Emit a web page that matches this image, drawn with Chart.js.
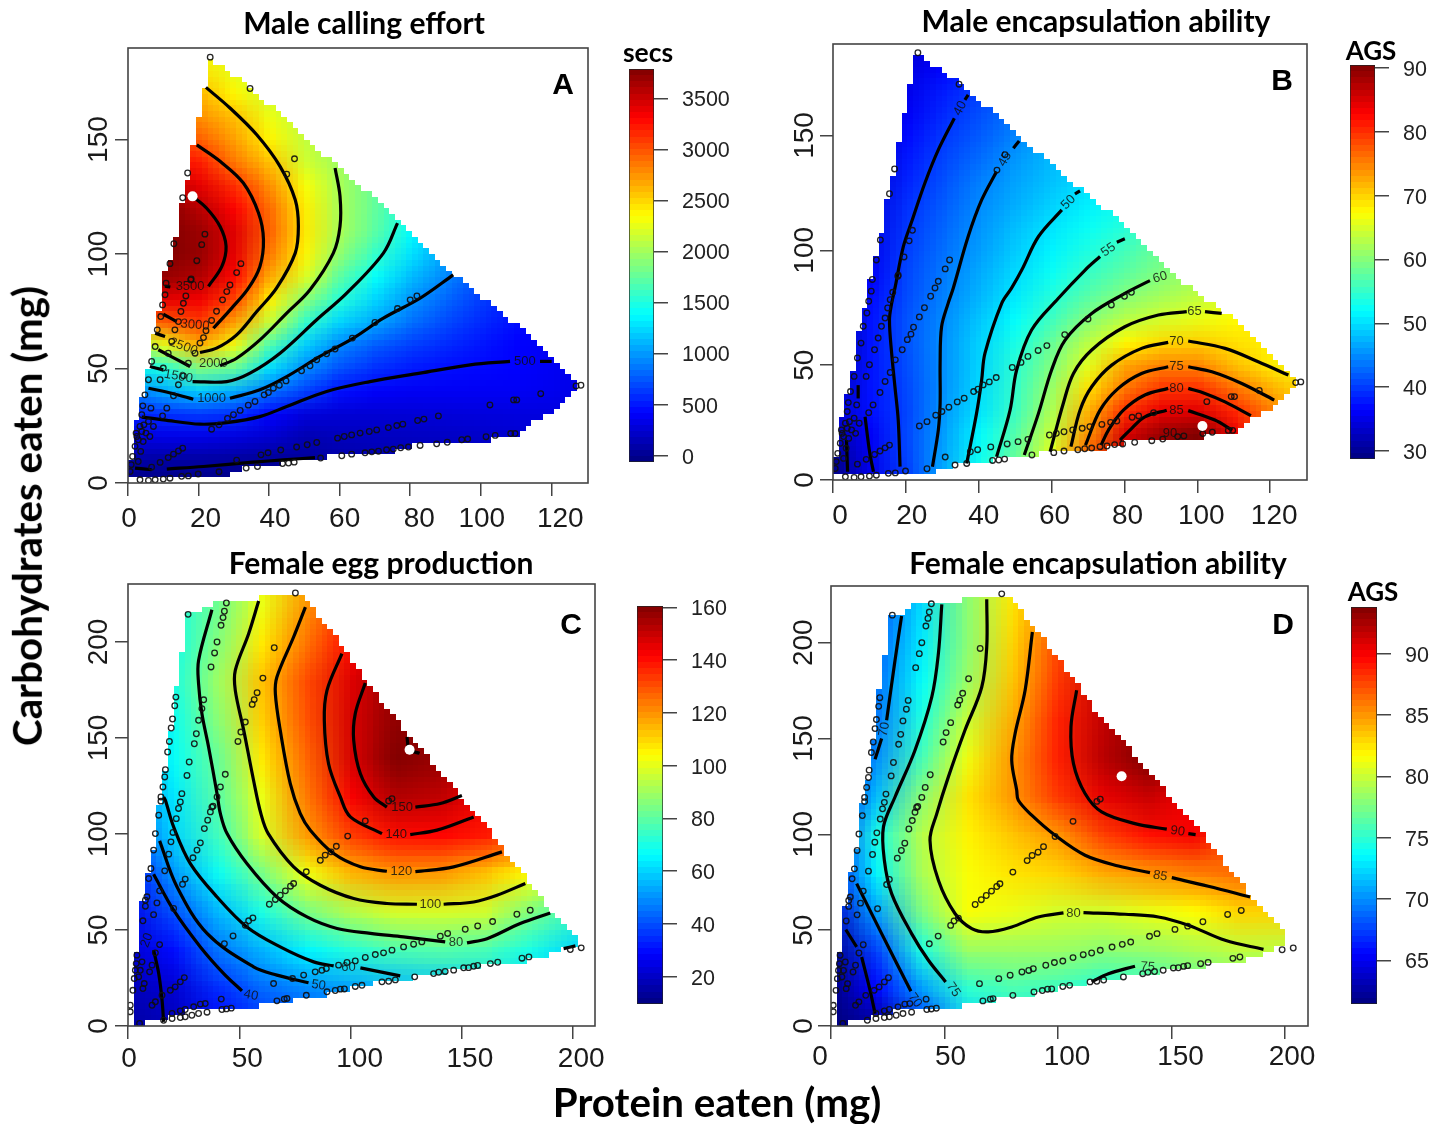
<!DOCTYPE html>
<html>
<head>
<meta charset="utf-8">
<title>Nutrient landscapes</title>
<script src="https://cdn.jsdelivr.net/npm/chart.js@4"></script>
<style>
html, body { margin: 0; padding: 0; background: #fff; width: 1448px; height: 1124px; overflow: hidden; }
canvas { position: absolute; }
.txt { position: absolute; white-space: nowrap; color: #000; font-family: Lato, "Open Sans", sans-serif; font-weight: 700; transform: translate(-50%, -50%); line-height: 1; }
.letter { font-family: "Liberation Sans", Arial, sans-serif; font-size: 30px; }
</style>
</head>
<body>
<script>
// tick labels
const xTicksMale = [0, 20, 40, 60, 80, 100, 120];
const yTicksMale = [0, 50, 100, 150];
const xTicksFemale = [0, 50, 100, 150, 200];
const yTicksFemale = [0, 50, 100, 150, 200];
const barTicksA = [0, 500, 1000, 1500, 2000, 2500, 3000, 3500];
const barTicksB = [30, 40, 50, 60, 70, 80, 90];
const barTicksC = [20, 40, 60, 80, 100, 120, 140, 160];
const barTicksD = [65, 70, 75, 80, 85, 90];

// colour bar limits
const barRangeA = [-62, 3787];
const barRangeB = [28.75, 90.47];
const barRangeC = [9.66, 160.5];
const barRangeD = [61.45, 93.8];

// nodes of the response surfaces, protein across and carbohydrate down
const maleGridX = [0, 10, 20, 30, 40, 50, 60, 70, 80, 90, 100, 110, 120, 130];
const maleGridY = [190, 180, 170, 160, 150, 140, 130, 120, 110, 100, 90, 80, 70, 60, 50, 40, 30, 20, 10, 0];
const femaleGridX = [0, 20, 40, 60, 80, 100, 120, 140, 160, 180, 200, 220];
const femaleGridY = [240, 220, 200, 180, 160, 140, 120, 100, 80, 60, 40, 20, 0];

const surfaceA = [
  [2500,2500,2350,2200,2000,1800,1600,1400,1200,1000,800,600,400,300],
  [2700,2700,2450,2250,2050,1850,1650,1450,1250,1050,850,650,450,300],
  [2900,2900,2620,2370,2150,1950,1750,1550,1350,1100,850,650,450,300],
  [3100,3050,2760,2580,2280,2080,1900,1700,1480,1200,950,700,500,350],
  [3200,3150,2950,2700,2380,2120,1950,1730,1500,1250,1000,750,550,400],
  [3300,3300,3200,2850,2570,2170,1980,1750,1500,1250,1000,780,600,450],
  [3500,3600,3400,3130,2760,2320,2010,1760,1500,1250,1000,800,620,480],
  [3700,3800,3570,3300,2900,2400,2020,1750,1450,1180,900,720,580,450],
  [3700,3800,3680,3420,2940,2420,2020,1720,1380,1100,850,660,530,420],
  [3700,3780,3700,3400,2850,2380,1920,1580,1280,1020,800,620,490,400],
  [3600,3700,3600,3280,2670,2220,1720,1400,1130,920,720,560,440,370],
  [3300,3400,3350,3050,2400,1900,1520,1220,980,800,640,520,420,350],
  [2800,2950,3080,2700,2130,1570,1220,1040,840,690,570,470,400,340],
  [2000,2250,2620,2280,1660,1200,920,760,650,570,490,420,370,320],
  [1300,1500,1850,1750,1260,940,720,590,510,465,440,420,380,330],
  [900,1060,1200,1080,850,660,470,400,380,380,380,380,360,320],
  [520,590,620,580,420,290,260,260,270,280,290,300,300,280],
  [300,330,330,300,240,130,170,180,190,200,220,240,250,250],
  [90,70,70,50,30,50,90,120,140,150,170,190,200,200],
  [-40,-40,-40,-40,-30,-10,20,50,70,90,110,130,150,150]
];
const surfaceB = [
  [29,31,33.5,35.5,37.5,39.5,41.5,43.5,45.5,47.5,49.5,51.5,53.5,55.5],
  [30,32,34.5,36.5,38.5,40.5,42.5,44.5,46.5,48.5,50.5,52.5,54.5,56.5],
  [30,32.5,35.3,38,40.2,42,44,46,48,50,52,54,56,58],
  [30,33,36,38.8,41.2,43.5,45.5,47.5,49.5,51.5,53.5,55.5,57.5,59.5],
  [30,33,37,39.8,42,44.5,46.7,48.5,50,52,54,56,58,60],
  [30,33.5,37.8,40.6,43,45.6,47.8,49.3,50.7,53,55.5,57.5,59.5,61],
  [30,34,38.5,41.3,44.2,46.3,48.2,49.9,51.7,53.5,55,57.5,59.5,61.5],
  [30,34.5,39.3,42,44.9,47,49.2,51.1,52.8,54.6,56.5,58.5,60.5,62.5],
  [30,35,39.8,42.6,45.5,48,50.4,52.4,54.2,56.5,58.5,60.5,62.5,64.5],
  [30,35.5,40.3,43.2,46,48.8,51.3,53.7,56,58.5,60,62,64,66],
  [30.5,36,40.7,43.8,46.8,49.7,52.5,55.3,57.5,59.7,61.7,63.7,65.7,67],
  [30.5,37,41,44.3,47.5,50.7,54.1,57.2,60,61.8,63.5,65,67,68.5],
  [31,37.5,41.5,44.9,48.5,52,55.7,60,63,64.7,66,67.5,69,70],
  [31,37.5,41.5,45.2,49.3,53.3,58.2,63.2,67.5,69.6,70.3,69.2,68,67],
  [32,37.5,41.2,45.2,49.5,54.5,59.7,65.7,72.8,74.8,74.7,71.2,68.5,66],
  [33,37.5,40.8,45.2,49.8,55,61.2,69.2,75.5,79.5,79.8,75.8,72,69],
  [34,37.3,40.6,45.6,50.3,55.5,62.5,72,80,84,84.5,80.5,75,71],
  [32,36,40.8,46,51.8,57,64,74,85,89,90.5,84,77,72],
  [30,35.5,40.5,46.5,52.5,58,66,78,88,91,92,86,78,73],
  [29,35,40,47,54,62,70,84,90,92,93,87,79,74]
];
const surfaceC = [
  [65,75,88,102,118,135,150,160,160,160,160,160],
  [62,70,83,101,120,136,150,158,160,160,160,160],
  [60,69,86,107,125,141,153,160,160,160,160,160],
  [58,70,90,113,131,147,157,160,160,158,156,154],
  [56,68,87,111,130,148,158,158,155,152,150,148],
  [50,67,82,107,127,148,160,157,148,142,138,135],
  [45,63,80,101,124,143,153,151,143,135,130,125],
  [38,60,76,98,119,133,140,141,138,132,125,118],
  [30,51,68,84,102,115,119.5,119,113,104,95,88],
  [25,40,56,70,84,93,97.8,98,97,85,75,65],
  [22,30,46,55,65,72,77,79,77,70,60,55],
  [18,22,35,44,49,52,55,58,60,60,58,55],
  [15,18,28,35,40,45,48,50,52,54,56,58]
];
const surfaceD = [
  [66,67.5,72,78,82,86,90,93,93,93,93,93],
  [66,68,72.5,78,82.5,86.5,90.5,93,93,93,93,93],
  [66,68.5,73,78,83,87.5,91,93,93,93,93,93],
  [65,69,73.7,78.5,83.5,88,91.5,93,93,93,93,93],
  [64.5,69.3,74.6,80,84.3,88.7,91.7,93.5,93.5,93,93,93],
  [64,70,75.8,81.2,85,88.8,92,94,93,91,89,87],
  [65,71.5,78,82.5,85,88,90.5,91.5,90,88,86,85],
  [66,74.3,79.4,82,83.5,85,87.8,89.3,90,87,85,83],
  [66,73.3,79,81.5,82.5,83,84.3,85,85.7,86.3,86,85],
  [64,70.6,77.5,81.5,81,80.3,80.3,81,81.7,83,83,82],
  [62,67.5,74.5,78.5,78.5,78.5,78,78.3,79,79.7,79.5,79],
  [60.5,65.5,70.5,75,76,75.5,74.5,75,76,77,77,77],
  [60,62,67,72,73,73,73,73,74,75,75,75]
];

// outline of the area the diets covered
const maleHull = [[22.3,185.2],[26.1,182.2],[35.5,171.8],[43.1,160.8],[54.4,144.8],[63.9,131.7],[77.1,115],[92.2,91.4],[101.7,79.3],[111.1,68.4],[120.6,53.8],[127.2,44.3],[127.2,42.2],[121.1,32],[114,25.4],[110.7,21.3],[99.8,18.4],[90.4,16.7],[76.2,16],[75.7,13.8],[64.8,13.8],[63.9,11.6],[53.5,11.3],[53,9.4],[40.3,9],[40.3,6.8],[28.9,6.5],[28.9,4],[2.9,2.1],[0.1,4.3],[0.6,7.2],[2.6,29],[4.5,39.2],[6,50.9],[7.7,69.8],[9.6,78.5],[11,97.5],[12.6,97.5],[12.6,107.7],[14.2,107.7],[14.2,121.5],[15.9,121.5],[15.9,133.2],[17.5,133.2],[17.5,147.8],[19.2,147.8],[19.2,159.1],[20.7,159.1],[20.7,173.2],[22.3,173.2]];
const femaleHull = [[58.7,224.3],[77.4,224.3],[82.2,218.2],[92.4,203.5],[105.9,181.8],[117.8,162.7],[128.3,148.8],[150.8,117.6],[161.2,104.6],[168.8,91.6],[179.2,75.9],[189.7,60.3],[202.4,44.7],[202.4,43.8],[187.5,36],[174.7,33],[157.5,30.8],[122.3,24.7],[105.9,21.2],[89.4,16.6],[74.4,16],[74.4,13.4],[59.1,13.4],[58.7,10.3],[46.7,7.9],[18.3,7.4],[17.5,2.1],[1.8,1.6],[2.5,37.7],[5,37.7],[5,52.9],[7.8,74.2],[12.7,96.8],[12.7,112.3],[15.3,119.3],[18,141.8],[20.5,161],[20.5,175.7],[23,175.7],[23,195.6],[25.7,195.6],[25.7,215.6],[33.2,215.6],[33.2,218.2],[46,221.3],[58.7,221.3]];

// individual intakes (open circles)
const maleEaten = [
  [0.6,5],[3.4,1.4],[5.8,1.1],[7.7,1.4],[10,1.7],[11.9,2.1],[15.2,2.9],[17.1,3.1],[19.9,3.9],[25.8,4.9],[33.5,6.5],[36.7,7.2],[43.8,8.5],[45.5,8.7],[47.1,9.1],[54.6,10.9],[60.6,11.9],[63.4,12.6],[67.2,13.2],[69.1,13.6],[71,13.9],[73.3,14.5],[75.2,14.8],[77.3,15.4],[79.5,15.7],[82.8,16.4],[87.5,17.1],[90.5,17.8],[94.6,18.9],[96.3,19.2],[101.5,20.2],[104.1,20.8],[108.5,21.6],[109.7,21.6],
  [6.7,6.9],[9.1,9],[11.4,11.1],[12.9,12.6],[14.3,14],[15.5,15.2],
  [30.8,10],[37.7,12.3],[39.7,13.2],[43.3,14.4],[47.8,15.7],[50.8,16.7],[53.5,17.7],[59.4,19.6],[61.3,20.3],[63.4,21],[65.8,21.8],[68.4,22.5],[70.5,23.2],[73.8,24.2],[76.2,25.1],[77.9,25.7],[82.1,27.3],[83.9,27.9],[88,29.3],[102.6,34.1],[109.3,36.3],[110.2,36.3],[117,39],[127,42.4],[128.4,42.7],
  [23.7,23.5],[25.8,25.4],[28.2,28.2],[29.9,29.8],[31.8,31.7],[34.1,34],[36,35.6],[38.6,38.5],[39.8,39.5],[41.2,41.4],[42.9,42.7],[44.8,44.6],[49.2,49],[51.6,51.2],[53.5,53.8],[56.3,56.4],[58.7,58.5],[63.6,63.3],[70,70.1],[76.4,76.2],[80,80],[81.9,81.7],
  [9.8,29.3],[11,32.7],[12.9,38.1],[14.3,42.9],[15.7,46.8],[17.1,52.3],[19,56.7],[20.4,61.1],[21.4,63.5],[22.1,66.5],[23.7,71],[25.1,75],[26.8,80],[28,83.6],[28.9,86.5],[30.8,91.9],[32,95.8],[21.8,108.7],[20.9,104.1],[19.5,97.1],[17.9,89.1],
  [0.9,8],[1.3,11.6],[2,16],[2.5,20.3],[3.4,24.7],[3.9,29.8],[4.2,33.7],[4.8,38.5],[5.8,45.1],[6.7,53.1],[7.7,59.6],[8.3,66.9],[9.3,72.7],[9.8,77.8],[10.5,82.2],[10.8,87.3],[11.9,95.8],[13,104.5],[15.5,124.6],[16.9,135.4],[23.3,186],[34.6,172.3],[47.2,141.6],[45,134.9],
  [6.5,32.7],[9.1,45.1],[10,50.2],[11.4,56.7],[12.4,61.8],[13.3,66.9],[14.3,70.5],[15,74.9],[15.7,78.5],[16.4,81.7],[17.8,88.7],
  [2.9,9.4],[3.6,13.8],[4.3,18.1],[5.1,21.8],[6.2,20.3],[7.2,24.7],[5.8,26.9],[3.9,22.5],[2.9,18.9],[2.3,21.8],[4.5,25.4]
];
const femaleEaten = [
  [1,7.4],[5.2,1.3],[16,3],[19.8,3.9],[23.5,4.4],[25.7,4.8],[28.7,5.6],[31.7,6.5],[35.5,7.2],[42.2,8.6],[44.2,8.9],[46.4,9.3],[66.9,13.1],[70.2,14],[71.4,14.3],[80.1,16],[89.4,17.8],[93.1,18.5],[95.4,19.2],[97.2,19.3],[102.1,20.6],[105.1,21.2],[114.1,23],[117.1,23.3],[120.1,24],[128.8,25.6],[137.3,27.3],[139.6,28],[142.5,28.4],[146.3,29.1],[150.8,30.3],[153,30.4],[155.3,31.1],[157.1,31.5],[162.8,32.5],[166.1,33.2],[177,35.3],[180.1,36],[198.7,39.8],[203.6,40.7],
  [10.8,10.8],[12.3,12.6],[15.3,16],[19,18.6],[21.2,20.4],[23.5,23],[25.3,25.2],
  [19.8,6.5],[23.5,7.9],[25.7,8.6],[29.5,10],[32.5,11.4],[34.7,11.7],[41.9,14],
  [43.3,42.9],[47.2,46.9],[52.7,52.5],[54.2,54.8],[56.1,56.3],[63.5,63.4],[66.2,65.9],[68.4,68.1],[70.7,70.4],[73,72.8],[74.4,74.2],[80.1,80.3],[86.4,86.3],[88.6,89],[91.2,90.7],[93.6,93.6],[98.7,98.9],[106.6,106.8],[117.1,117.2],[118.6,118.4],
  [65.4,22.1],[73.9,24.7],[78.9,26.5],[84.1,28.2],[87.1,29],[89.1,29.9],[94.6,31.7],[98.4,33.1],[102.1,33.9],[106.6,35.7],[111.1,37.2],[114.8,38.1],[118.6,39.5],[123.8,41.2],[128.3,42.6],[132,43.8],[140.3,46.8],[143.6,48.2],[151.5,50.4],[157.1,52.1],[163.8,54.4],[174.7,58.2],[180.7,60.3],
  [29.2,87.6],[31,91.6],[32.5,95.4],[34.3,102.8],[35.8,107.2],[37,111.5],[38.2,114.5],[37.7,114],[40,119.3],[41.5,124.5],[43.7,131.1],
  [18.3,89.5],[19.3,95.9],[20.2,100.8],[21.7,108],[22.7,113.3],[23.5,116.7],[24.2,121],[26.5,130.5],[27.5,137.5],[29.8,147],[30.7,152.2],[31.7,159.2],[33.2,165.3],[34,169.9],[37.3,187],[38.9,194.3],[40,200],[41.8,208.7],[42.7,212.7],[43.3,216],[44.2,220.3],
  [6.7,54.8],[7.8,62.4],[9.3,76.8],[10.3,82],[11.5,91.6],[12.3,100.2],[13.8,109.8],[14.8,117.1],[14.8,119.3],[15.7,124.5],[16.5,129.7],[16.8,133.5],[17.8,142.7],[18.6,148.2],[19.4,155.2],[20,159.9],[21,166.8],[21.5,171.3],[27,214.4],
  [75.2,225.5],[65.7,197],[60.6,181.2],[58,173.6],[56.7,170],[55.8,167.5],[52.7,158.3],[50.7,153.1],[49.4,148.2],
  [13,64.1],[14.2,70.4],[16.5,80.8],[24.5,73.8],[25.7,76.5],[20.5,61.2],[11.5,58],[14.2,42.4],[12.3,38.1],[10.8,31.7],[9.7,28.2],[7.3,22.1],[6.7,19.5],
  [4,36.9],[3.7,32.5],[3.3,29],[2.8,24.7],[2.2,18.6],[1,10.8],[6.3,33.4],[5.5,29],[4.8,25.6],[8.5,67.3],[7.8,65.5]
];

// best diet of each panel (white dot)
const peakA = [18.3, 125.2];
const peakB = [101.4, 23.5];
const peakC = [126.5, 143.9];
const peakD = [128, 130.3];

// contour lines, split where a label sits
const contoursA = [
  [[18.3,125.2],[22.3,120],[26.1,112],[27.8,103.4],[26.6,94.6],[22.8,85.9]],
  [[10.5,86],[12,85.6]],
  [[19.5,147.7],[26.1,140.5],[32.7,131],[37,117.9],[38.4,106.3],[37.4,94.6],[34.1,85],[29.4,76.4],[24.2,67.6]],
  [[10,73.7],[13.8,70.5]],
  [[22.1,172.8],[28.9,163.8],[36.5,152.1],[43.1,138.3],[47.4,123.7],[48.3,112.1],[47.4,100.4],[42.1,85.1],[36.5,74.9],[30.8,64.7],[25.1,58.9],[20.4,57]],
  [[7.7,65.4],[10.5,64]],
  [[58.7,137.6],[60.1,125.2],[60.1,112.1],[58.2,100.4],[51.6,84.4],[45,74.2],[37.4,62.5],[30.8,54.5],[26.1,51.2]],
  [[8.6,58.2],[17.6,50.9]],
  [[76.4,113.5],[72.4,100.4],[62,82.9],[53.5,71.3],[43.1,56.7],[34.6,48],[28,44.3],[18.3,44.3]],
  [[6.2,50.9],[10,49.4]],
  [[92.2,90.9],[82.8,80.7],[72.4,72],[63.9,63.3],[54.4,55.3],[45,46.5],[37.4,40.7],[28.9,37]],
  [[5.8,41.4],[12.9,39],[18.5,36.6]],
  [[120.1,53.1],[116.8,53.1]],
  [[108.3,53.1],[97,51.6],[82.8,48],[68.6,44.3],[56.3,40],[45,33.4],[37.4,29],[28,26.4],[20.4,25.7],[10,27.6],[3.9,28.8]],
  [[11,6.1],[21.4,7.2],[35.5,9.1],[44,10.1],[53,11.1]],
  [[2,6.5],[6.7,5.8]]
];
const contoursB = [
  [[37.1,167.7],[36.2,165.5]],
  [[33.3,157.5],[28.9,143.7],[25.2,129.2],[21.6,112.5],[19.3,101.6],[17,83.5],[16.1,76.9],[15.5,69.6],[16.1,55.1],[17,40.6],[17.9,26.1],[18.4,5.8]],
  [[51.1,147.6],[49.5,144.4]],
  [[44.9,134.3],[40.8,121.9],[37.1,106],[33,83.5],[31.6,76.9],[29.8,66.7],[29.4,50.8],[29.4,33.3],[28.9,21.7],[27.3,5.8]],
  [[67.8,125.9],[66.4,124.5]],
  [[62.8,117.6],[56.4,106],[51.8,91.4],[49,83.5],[46.3,76.9],[41.7,55.1],[40.8,43.5],[39.4,29],[36.7,7.2]],
  [[80.1,105],[77.9,103.5]],
  [[73.3,97.3],[69.2,91.4],[61.8,79],[54.5,65.3],[50.4,47.9],[48.6,30.4],[44.9,10.1]],
  [[87,86.8],[80.1,81.2],[71,72.5],[63.7,60.9],[60,47.9],[56.4,29],[52.5,10.9]],
  [[106.7,72.5],[102.1,73.3]],
  [[97.1,73.3],[89.3,71.8],[80.1,66.7],[71,56.6],[66,46.4],[63.2,33.3],[59.6,12.3]],
  [[125,45.7],[116.7,51.5],[107.6,57.3],[97.5,60.5]],
  [[92,59.9],[84.7,57.3],[76.5,50],[71,40.6],[67.8,30.4],[65.3,14.5]],
  [[121.1,34.8],[112.2,42],[104,47.1],[97.5,49.3]],
  [[92,49.3],[84.7,46.4],[78.3,39.9],[73.3,30.4],[69.3,15.2]],
  [[114.7,28],[107.6,34],[102.1,37.7],[97.5,39.9]],
  [[92,39.9],[85.6,37],[79.7,30.4],[75.6,21.7],[73.6,15.2]],
  [[109.6,21.7],[104.8,26.1],[97.5,30.2]],
  [[91.6,30.4],[85.6,27.5],[82,22.5],[78.8,17.4]],
  [[8.8,27.5],[10.1,11.6],[11.1,3.6]],
  [[6.9,41.3],[6.9,35.5]],
  [[3.7,17.4],[4,3.6]]
];
const contoursC = [
  [[37.7,216.8],[31.7,190.4],[31.7,178.3],[33.2,162.7],[36.2,145.3],[40,121],[41.5,110.6],[44.5,100.2],[53.4,84.6],[66.9,67.2],[80.4,56.8],[93.9,50.8],[108.9,48.2],[123.8,46.4],[142.5,43.8]],
  [[152.3,43.3],[161.3,45.5],[176.2,53.4],[189.7,58.9]],
  [[58.7,221.3],[54.2,204.3],[48.2,185.2],[48.2,174.8],[52,154],[56.4,128],[59.7,110.6],[63,100.2],[74.4,82.9],[86.4,73.3],[101.4,66.4],[116.3,63.8],[129.8,63.4]],
  [[141.8,63.4],[155.3,64.6],[165.8,68.1],[178.5,74.2]],
  [[79.7,218.2],[74.4,202.6],[66.9,181.8],[66.2,173.1],[68.4,154],[72.9,126.2],[77.4,110.6],[81.9,102],[92.4,89.8],[104.4,82.9],[116.3,80.6]],
  [[129.1,80.4],[146.3,82.9],[168,90.7]],
  [[96.1,193.9],[89.4,174.8],[88.2,159.2],[90.1,136.6],[95.4,119.3],[99.9,108.9],[114.1,100.2]],
  [[126.8,99.7],[138.8,102],[155.3,108.9]],
  [[106.6,178.6],[102.1,162.7],[101.4,148.8],[104.4,131.4],[110.4,119.3],[116.3,114]],
  [[129.1,114],[140.3,115.9],[150,120]],
  [[125.3,150.5],[126.5,144],[131,142]],
  [[16,119.3],[16.8,117.6],[20.5,103.7],[28,84.6],[40,67.2],[53.4,51.6],[68.4,41.2],[83.4,33.4],[92.4,31.3]],
  [[104.4,30.3],[122.3,26.1]],
  [[14.2,96.4],[22,72.5],[35.5,48.2],[56.4,30.8],[66.9,26.5],[81.1,22.5]],
  [[11.5,79],[20.5,60.3],[32.5,41.2],[43,27.3],[51.2,18.3]],
  [[195.7,40.3],[201,41.7]],
  [[11.5,39.5],[13.8,27.3],[15.3,13.4],[16,2.2]]
];
const contoursD = [
  [[31.1,214],[28.2,190.9],[24.5,159.5]],
  [[22.3,150],[19.4,139.2]],
  [[48.8,220],[47.3,194.3],[44.4,171.7],[37,143.9],[28.2,119.5],[23.1,103.9],[23.5,86.5],[26.7,69.1],[35.5,48.2],[42.9,34.3],[50.5,23]],
  [[68.6,222.7],[68.6,197.8],[66.4,176.9],[59,154.3],[51.7,130],[46.6,110.8],[43.6,96.9],[47.3,76],[54.6,58.7],[62,50.8],[69.3,49.1],[79.6,51.7],[91.3,56.9],[102.4,59]],
  [[111.2,59.2],[129.5,58.3],[144.2,56.9],[157.4,52.6],[173.6,44.7],[190.5,40]],
  [[88.7,205.6],[85.5,175.2],[81.1,152.6],[79.6,138.7],[81.8,123],[82.5,117.8],[88.4,110],[98.7,99.5],[111.9,89.1],[126.6,83.5],[140.5,80]],
  [[150.1,77.4],[166.2,72.9],[184.6,67.3]],
  [[108.2,175.2],[105.7,156.1],[106.8,136.9],[111.9,121.3],[119.2,111.7],[133.9,105.6],[147.9,102.7]],
  [[157.4,100.4],[160.6,99.9]],
  [[11.3,74.3],[22.3,48.2],[35.2,18.1]],
  [[6.5,50.3],[11.3,41.3]],
  [[13.5,36],[17.2,18.6],[19.4,6.5]],
  [[114.8,23],[122.2,27.3],[133.9,31.2]]
];

// contour labels: text, where it sits, tilt in degrees
const contourTextA = ['3500','3000','2500','2000','1500','1000','500'];
const contourAtA = [[17.6,85.9],[19,69],[15.7,59.6],[24.2,52.3],[14.3,46.5],[23.7,37],[112.5,53.1]];
const contourTiltA = [0,5,20,0,10,0,0];
const contourTextB = ['40','45','50','55','60','65','70','75','80','85','90'];
const contourAtB = [[34.9,161.8],[47.2,139.6],[64.6,120.9],[75.6,100.2],[89.8,88.2],[99.2,73.3],[94.3,60.2],[94.3,49.3],[94.3,39.7],[94.3,30.4],[92.5,20.3]];
const contourTiltB = [-62,-60,-45,-35,-15,0,0,0,0,0,0];
const contourTextC = ['150','140','120','100','80','60','50','40','20'];
const contourAtC = [[123.1,113.7],[120.5,99.9],[122.8,80.4],[135.8,63.4],[147.3,43.5],[99.1,30.3],[85.6,21.2],[55.2,16],[8.5,44.7]];
const contourTiltC = [0,0,0,0,0,0,8,12,-70];
const contourTextD = ['90','85','80','75','75','70','70'];
const contourAtD = [[152.7,101.6],[145,78.3],[106.8,59],[53.9,19],[139.5,30.8],[23.5,154.8],[37,13.4]];
const contourTiltD = [8,10,0,55,4,-80,55];

// layout of the page, in pixels
const panelBoxA = { l: 128, t: 48, r: 588, b: 483, xMax: 130.4, yMax: 190, tickGap: 6, yLabelGap: 28, nudge: [1, 7, 6, 5, 9, 1, 9] };
const panelBoxB = { l: 833, t: 44, r: 1307, b: 480, xMax: 130.1, yMax: 189.8, tickGap: 6, yLabelGap: 27, nudge: [7, 6, 5, 3, 3, 4, 4] };
const panelBoxC = { l: 128, t: 584, r: 595, b: 1026, xMax: 209.8, yMax: 230.2, tickGap: 3, yLabelGap: 28, nudge: [1, 8, 9, 8, 8] };
const panelBoxD = { l: 831, t: 586, r: 1308, b: 1026, xMax: 210.1, yMax: 229.6, tickGap: 1, yLabelGap: 26, nudge: [-11, 6, 9, 9, 7] };
const CELL = 5.7;
const TICK_FONT = '"Liberation Sans", Arial, sans-serif';

function jet(t) {
  // piecewise jet ramp, dark blue to dark red
  t = Math.max(0, Math.min(1, t));
  const ch = (a) => Math.round(255 * Math.max(0, Math.min(1, 1.5 - Math.abs(4 * t - a))));
  return [ch(3), ch(2), ch(1)];
}

function toXY(rows) {
  return rows.map((p) => ({ x: p[0], y: p[1] }));
}

// paints the surface nodes through the chart scales, then cuts it to the outline in big square cells
function heatPlugin(field) {
  return {
    id: 'heat',
    beforeDatasetsDraw(chart) {
      const { ctx, chartArea: a, scales: { x, y } } = chart;
      const rows = field.values.length, cols = field.values[0].length;
      const small = document.createElement('canvas');
      small.width = cols; small.height = rows;
      const sctx = small.getContext('2d');
      const img = sctx.createImageData(cols, rows);
      field.values.forEach((row, j) => row.forEach((v, i) => {
        const c = jet((v - field.range[0]) / (field.range[1] - field.range[0]));
        const k = (j * cols + i) * 4;
        img.data[k] = c[0]; img.data[k + 1] = c[1]; img.data[k + 2] = c[2]; img.data[k + 3] = 255;
      }));
      sctx.putImageData(img, 0, 0);

      const w = Math.round((a.right - a.left) / CELL), h = Math.round((a.bottom - a.top) / CELL);
      const sx = w / (a.right - a.left), sy = h / (a.bottom - a.top);
      const cell = document.createElement('canvas');
      cell.width = w; cell.height = h;
      const cctx = cell.getContext('2d');
      const dx0 = (x.getPixelForValue(field.gridX[0]) - a.left) * sx;
      const dx1 = (x.getPixelForValue(field.gridX[cols - 1]) - a.left) * sx;
      const dy0 = (y.getPixelForValue(field.gridY[0]) - a.top) * sy;
      const dy1 = (y.getPixelForValue(field.gridY[rows - 1]) - a.top) * sy;
      cctx.imageSmoothingEnabled = true;
      cctx.drawImage(small, 0.5, 0.5, cols - 1, rows - 1, dx0, dy0, dx1 - dx0, dy1 - dy0);

      cctx.globalCompositeOperation = 'destination-in';
      cctx.beginPath();
      field.hull.forEach((p, i) => {
        const px = (x.getPixelForValue(p[0]) - a.left) * sx, py = (y.getPixelForValue(p[1]) - a.top) * sy;
        if (i === 0) cctx.moveTo(px, py); else cctx.lineTo(px, py);
      });
      cctx.closePath();
      cctx.fill();
      cctx.globalCompositeOperation = 'source-over';
      const cut = cctx.getImageData(0, 0, w, h);
      for (let k = 3; k < cut.data.length; k += 4) cut.data[k] = cut.data[k] >= 110 ? 255 : 0;
      cctx.putImageData(cut, 0, 0);

      ctx.save();
      ctx.imageSmoothingEnabled = false;
      ctx.drawImage(cell, a.left, a.top, a.right - a.left, a.bottom - a.top);
      ctx.restore();
    },
    afterDatasetsDraw(chart) {
      const { ctx, chartArea: a, scales: { x, y } } = chart;
      ctx.save();
      ctx.font = '13px ' + TICK_FONT;
      ctx.fillStyle = 'rgba(15,15,15,0.82)';
      ctx.textAlign = 'center';
      ctx.textBaseline = 'middle';
      field.labels.forEach((t, i) => {
        ctx.save();
        ctx.translate(x.getPixelForValue(field.labelAt[i][0]), y.getPixelForValue(field.labelAt[i][1]));
        ctx.rotate(field.labelTilt[i] * Math.PI / 180);
        ctx.fillText(t, 0, 0);
        ctx.restore();
      });
      ctx.strokeStyle = '#444';
      ctx.lineWidth = 1.6;
      ctx.strokeRect(a.left, a.top, a.right - a.left, a.bottom - a.top);
      ctx.restore();
    },
    beforeDraw(chart) {
      // tick labels sit a little off their ticks in the original figure
      const items = chart.scales.x.getLabelItems(chart.chartArea);
      items.forEach((it, i) => { it.options.translation[0] += field.box.nudge[i] || 0; });
    }
  };
}

function makePanel(field) {
  const b = field.box;
  const leftRoom = 100, rightRoom = 12, topRoom = 12, bottomRoom = 60;
  const cv = document.createElement('canvas');
  cv.width = b.r - b.l + leftRoom + rightRoom;
  cv.height = b.b - b.t + topRoom + bottomRoom;
  cv.style.left = (b.l - leftRoom) + 'px';
  cv.style.top = (b.t - topRoom) + 'px';
  document.body.appendChild(cv);

  const contourSets = field.contours.map((line) => ({
    data: toXY(line), showLine: true, borderColor: '#000', borderWidth: 3.2, tension: 0.35, pointRadius: 0, fill: false, borderCapStyle: 'butt'
  }));
  return new Chart(cv.getContext('2d'), {
    type: 'scatter',
    data: {
      datasets: [
        { data: toXY([field.peak]), pointRadius: 5, pointBackgroundColor: '#fff', pointBorderColor: '#fff', pointBorderWidth: 0 },
        { data: toXY(field.eaten), pointRadius: 2.8, pointBorderWidth: 1.3, pointBorderColor: 'rgba(15,15,15,0.9)', pointBackgroundColor: 'rgba(0,0,0,0)' }
      ].concat(contourSets)
    },
    options: {
      responsive: false,
      animation: false,
      events: [],
      layout: { autoPadding: false, padding: { top: topRoom, right: rightRoom } },
      plugins: { legend: { display: false }, tooltip: { enabled: false } },
      scales: {
        x: {
          type: 'linear', min: 0, max: b.xMax,
          afterBuildTicks: (s) => { s.ticks = field.xTicks.map((v) => ({ value: v })); },
          afterFit: (s) => { s.height = bottomRoom; },
          grid: { drawOnChartArea: false, tickLength: 13, color: '#444', lineWidth: 1.5 },
          border: { display: false },
          ticks: { color: '#1a1a1a', font: { family: TICK_FONT, size: 28 }, padding: b.tickGap, maxRotation: 0, autoSkip: false }
        },
        y: {
          type: 'linear', min: 0, max: b.yMax,
          afterBuildTicks: (s) => { s.ticks = field.yTicks.map((v) => ({ value: v })); },
          afterFit: (s) => { s.width = leftRoom; },
          grid: { drawOnChartArea: false, tickLength: 13, color: '#444', lineWidth: 1.5 },
          border: { display: false },
          ticks: { color: '#1a1a1a', font: { family: TICK_FONT, size: 28 }, minRotation: 90, maxRotation: 90, crossAlign: 'center', padding: b.yLabelGap - 13 - 23, autoSkip: false }
        }
      }
    },
    plugins: [heatPlugin(field)]
  });
}

function makeColorBar(box, range, ticks) {
  const roomY = 14, axisRoom = 90;
  const cv = document.createElement('canvas');
  cv.width = box.r - box.l + axisRoom;
  cv.height = box.b - box.t + roomY * 2;
  cv.style.left = box.l + 'px';
  cv.style.top = (box.t - roomY) + 'px';
  document.body.appendChild(cv);
  const bands = (c) => {
    const a = c.chart.chartArea;
    if (!a) return '#000';
    const g = c.chart.ctx.createLinearGradient(0, a.bottom, 0, a.top);
    const n = 64;
    for (let i = 0; i < n; i++) {
      const col = jet((i + 0.5) / n);
      const css = 'rgb(' + col.join(',') + ')';
      g.addColorStop(i / n, css);
      g.addColorStop((i + 1) / n, css);
    }
    return g;
  };
  return new Chart(cv.getContext('2d'), {
    type: 'bar',
    data: { labels: [''], datasets: [{ data: [[range[0], range[1]]], backgroundColor: bands, borderColor: '#222', borderWidth: 1, borderSkipped: false, barPercentage: 1, categoryPercentage: 1 }] },
    options: {
      responsive: false,
      animation: false,
      events: [],
      layout: { autoPadding: false, padding: { top: roomY, bottom: roomY } },
      plugins: { legend: { display: false }, tooltip: { enabled: false } },
      scales: {
        x: { display: false },
        y: {
          position: 'right', min: range[0], max: range[1],
          afterBuildTicks: (s) => { s.ticks = ticks.map((v) => ({ value: v })); },
          afterFit: (s) => { s.width = axisRoom; s.paddingTop = 0; s.paddingBottom = 0; },
          grid: { drawOnChartArea: false, tickLength: 14, color: '#444', lineWidth: 1.5 },
          border: { display: false },
          ticks: { color: '#222', font: { family: TICK_FONT, size: 21.5 }, padding: 14, autoSkip: false, callback: (v) => String(v) }
        }
      }
    },
    plugins: [{
      id: 'labelDrop',
      beforeDraw(chart) {
        chart.scales.y.getLabelItems(chart.chartArea).forEach((it) => { it.options.translation[1] += 2; });
      }
    }]
  });
}

function addText(text, cx, cy, size, extra) {
  const d = document.createElement('div');
  d.className = 'txt' + (extra && extra.cls ? ' ' + extra.cls : '');
  d.textContent = text;
  d.style.left = cx + 'px';
  d.style.top = cy + 'px';
  if (size) d.style.fontSize = size + 'px';
  if (extra && extra.rotate) d.style.transform = 'translate(-50%, -50%) rotate(' + extra.rotate + 'deg)';
  document.body.appendChild(d);
}

makePanel({ box: panelBoxA, xTicks: xTicksMale, yTicks: yTicksMale, values: surfaceA, gridX: maleGridX, gridY: maleGridY, range: barRangeA, hull: maleHull, eaten: maleEaten, peak: peakA, contours: contoursA, labels: contourTextA, labelAt: contourAtA, labelTilt: contourTiltA });
makePanel({ box: panelBoxB, xTicks: xTicksMale, yTicks: yTicksMale, values: surfaceB, gridX: maleGridX, gridY: maleGridY, range: barRangeB, hull: maleHull, eaten: maleEaten, peak: peakB, contours: contoursB, labels: contourTextB, labelAt: contourAtB, labelTilt: contourTiltB });
makePanel({ box: panelBoxC, xTicks: xTicksFemale, yTicks: yTicksFemale, values: surfaceC, gridX: femaleGridX, gridY: femaleGridY, range: barRangeC, hull: femaleHull, eaten: femaleEaten, peak: peakC, contours: contoursC, labels: contourTextC, labelAt: contourAtC, labelTilt: contourTiltC });
makePanel({ box: panelBoxD, xTicks: xTicksFemale, yTicks: yTicksFemale, values: surfaceD, gridX: femaleGridX, gridY: femaleGridY, range: barRangeD, hull: femaleHull, eaten: femaleEaten, peak: peakD, contours: contoursD, labels: contourTextD, labelAt: contourAtD, labelTilt: contourTiltD });

makeColorBar({ l: 629, r: 654, t: 69, b: 462 }, barRangeA, barTicksA);
makeColorBar({ l: 1350, r: 1375, t: 65, b: 459 }, barRangeB, barTicksB);
makeColorBar({ l: 637, r: 663, t: 606, b: 1004 }, barRangeC, barTicksC);
makeColorBar({ l: 1351, r: 1377, t: 607, b: 1004 }, barRangeD, barTicksD);

addText('Male calling effort', 364, 22, 30);
addText('Male encapsulation ability', 1096, 20, 30);
addText('Female egg production', 381, 562, 30);
addText('Female encapsulation ability', 1098, 562, 30);
addText('secs', 648, 52, 26.5);
addText('AGS', 1371, 50, 26);
addText('AGS', 1373, 591, 26);
addText('A', 563, 84, 0, { cls: 'letter' });
addText('B', 1282, 80, 0, { cls: 'letter' });
addText('C', 571, 624, 0, { cls: 'letter' });
addText('D', 1283, 624, 0, { cls: 'letter' });
addText('Carbohydrates eaten (mg)', 27, 516, 40.3, { rotate: -90 });
addText('Protein eaten (mg)', 717, 1102, 40.3);
</script>
</body>
</html>
